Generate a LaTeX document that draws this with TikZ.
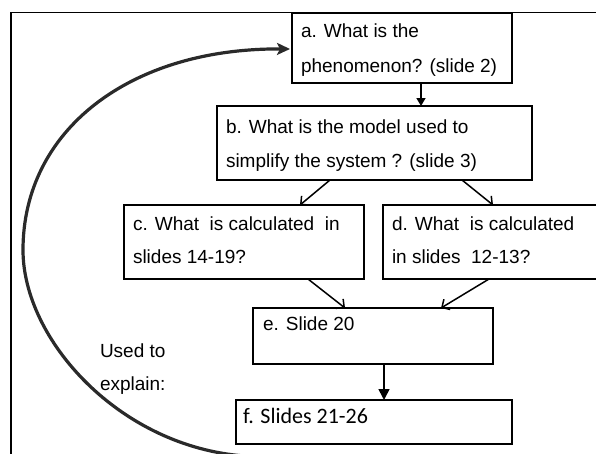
\documentclass[tikz,border=0pt]{standalone}
\usepackage{fontspec}
\setmainfont{Liberation Sans}
\newfontfamily\calfont{Carlito}
\usetikzlibrary{arrows.meta,calc}
\definecolor{curvegray}{HTML}{2A2A2A}
\tikzset{
  boxst/.style={draw=black, line width=1.5pt, inner sep=0pt, outer sep=0pt, anchor=north west},
  txt/.style={inner sep=0pt, outer sep=0pt, anchor=base west, font=\fontsize{19}{22}\selectfont},
  ftxt/.style={inner sep=0pt, outer sep=0pt, anchor=base west, font=\calfont\fontsize{22}{26}\selectfont},
  barb/.style={draw=black, line width=1.5pt, -{Straight Barb[length=6pt,width=12pt,line width=1.5pt]}},
  filled/.style={draw=black, line width=1.5pt, -{Triangle[length=8pt,width=9pt]}},
  filledbig/.style={draw=black, line width=1.6pt, -{Triangle[length=11pt,width=11pt]}},
  curvest/.style={draw=curvegray, line width=3.2pt, -{Stealth[length=13pt,width=12pt,inset=3pt]}},
}
\begin{document}
\begin{tikzpicture}[x=1pt,y=-1pt]
\useasboundingbox (0,0) rectangle (596,453);
\clip (0,0) rectangle (596,453);
% outer frame
\draw[line width=1.6pt] (11,470) -- (11,12.5) -- (610,12.5);
% boxes
\node[boxst, minimum width=220pt, minimum height=70pt] (a) at (292,13) {};
\node[boxst, minimum width=315pt, minimum height=74pt] (b) at (217,106) {};
\node[boxst, minimum width=240pt, minimum height=74pt] (c) at (124,205) {};
\node[boxst, minimum width=230pt, minimum height=74pt] (d) at (383,205) {};
\node[boxst, minimum width=240pt, minimum height=56pt] (e) at (253,308) {};
\node[boxst, minimum width=276pt, minimum height=44pt] (f) at (236,400) {};
% texts
\node[txt] (a1) at (301,37) {a. What is the};
\node[txt] (a2) at (301,72) {phenomenon? (slide 2)};
\node[txt] (b1) at (226,133) {b. What is the model used to};
\node[txt] (b2) at (226,167) {simplify the system ? (slide 3)};
\node[txt] (c1) at (133,230) {c. What~ is calculated~ in};
\node[txt] (c2) at (133,263) {slides 14-19?};
\node[txt] (d1) at (392,230) {d. What~ is calculated};
\node[txt] (d2) at (392,263) {in slides~ 12-13?};
\node[txt] (e1) at (263,330) {e. Slide 20};
\node[ftxt] (f1) at (243,423) {f. Slides 21-26};
\node[txt] (u1) at (100,357) {Used to};
\node[txt] (u2) at (100,390) {explain:};
% connectors
\draw[filled] (a.south -| 421,0) -- (b.north -| 421,0);
\draw[barb] (b.south -| 330,0) -- (c.north -| 300,0);
\draw[barb] (b.south -| 462,0) -- (d.north -| 493,0);
\draw[barb] (c.south -| 308,0) -- (e.north -| 345,0);
\draw[barb] (d.south -| 489,0) -- (e.north -| 441,0);
\draw[filledbig] (e.south -| 384,0) -- (f.north -| 384,0);
% feedback curve
\coordinate (cstart) at (245,456);
\draw[curvest] (cstart) .. controls (120,447) and (23,340) .. (23,250)
  .. controls (23,130) and (130,48) .. ($(a.west)+(-2,1)$);
\end{tikzpicture}
\end{document}
